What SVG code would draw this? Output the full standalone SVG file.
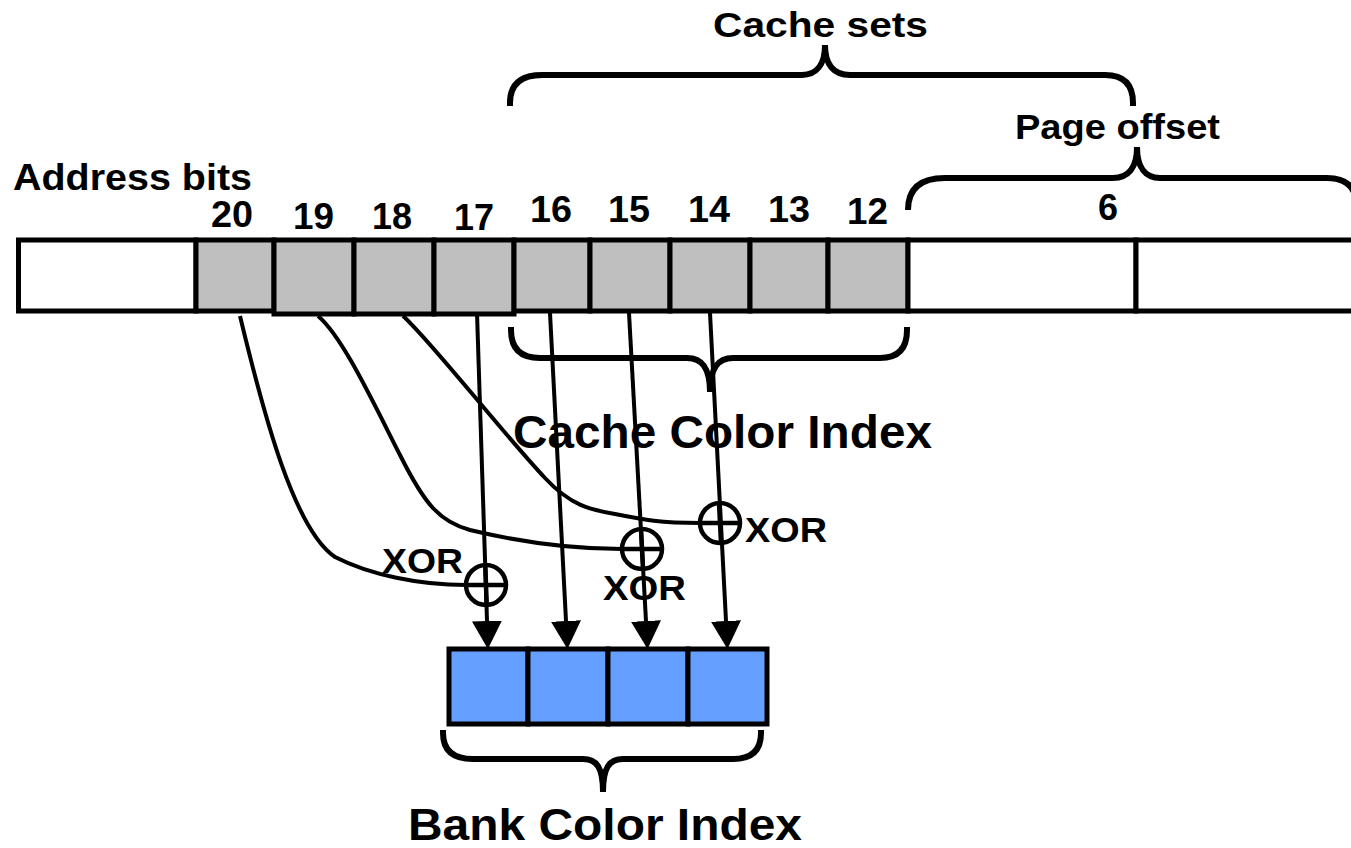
<svg xmlns="http://www.w3.org/2000/svg" width="1351" height="848" viewBox="0 0 1351 848">
  <style>
    .lbl { font-family: "Liberation Sans", Arial, sans-serif; font-weight: bold; fill: #000; }
    .cell { stroke: #000; stroke-width: 5; }
    .grey { fill: #BFBFBF; }
    .white { fill: #FFFFFF; }
    .blue { fill: #659FFF; stroke: #000; stroke-width: 5; }
    .brace { fill: none; stroke: #000; stroke-width: 6; }
    .wire { fill: none; stroke: #000; stroke-width: 4; }
    .xor { fill: none; stroke: #000; stroke-width: 4.5; }
  </style>
  <defs>
    <marker id="arrow" viewBox="0 0 28 30" refX="0" refY="15" markerWidth="28" markerHeight="30" orient="auto" markerUnits="userSpaceOnUse">
      <path d="M0,0 L28,15 L0,30 Z" fill="#000"/>
    </marker>
  </defs>
  <rect width="1351" height="848" fill="#FFFFFF"/>

  <!-- Labels -->
  <g id="label-cache-sets"><text class="lbl" x="713" y="37" font-size="35" textLength="215" lengthAdjust="spacingAndGlyphs">Cache sets</text></g>
  <g id="label-page-offset"><text class="lbl" x="1015" y="139" font-size="35" textLength="205" lengthAdjust="spacingAndGlyphs">Page offset</text></g>
  <g id="label-address-bits"><text class="lbl" x="13" y="190" font-size="36" textLength="239" lengthAdjust="spacingAndGlyphs">Address bits</text></g>

  <!-- Brackets -->
  <g id="brace-cache-sets"><path class="brace" d="M510,106 L510,103 Q510,75 542,75 L802,75 C816,75 825,65 825,45 C825,65 834,75 850,75 L1105,75 Q1133,75 1133,103 L1133,106"/></g>
  <g id="brace-page-offset"><path class="brace" d="M908,210 L908,210 Q908,178 945,178 L1113,178 C1128,178 1137,168 1137,147 C1137,168 1146,178 1160,178 L1327,178 Q1357,178 1357,208"/></g>
  <g id="brace-cache-color"><path class="brace" d="M511,327 L511,330 Q511,358 540,358 L687,358 C702,358 710,368 710,392 C710,368 718,358 733,358 L880,358 Q907,358 907,330 L907,327"/></g>
  <g id="brace-bank-color"><path class="brace" d="M443,730 L443,733 Q443,759 473,759 L583,759 C597,759 603,768 603,792 C603,768 609,759 623,759 L733,759 Q761,759 761,733 L761,730"/></g>

  <!-- Address bit row -->
  <g id="bit-high"><rect class="cell white" x="18.5" y="240" width="177.5" height="71"/></g>
  <g id="bit-20"><rect class="cell grey" x="196" y="240" width="78" height="71"/><text class="lbl" x="211" y="227" font-size="36" textLength="42" lengthAdjust="spacingAndGlyphs">20</text></g>
  <g id="bit-19"><rect class="cell grey" x="274" y="240" width="80" height="74"/><text class="lbl" x="293" y="229" font-size="36" textLength="41" lengthAdjust="spacingAndGlyphs">19</text></g>
  <g id="bit-18"><rect class="cell grey" x="354" y="240" width="80" height="74"/><text class="lbl" x="372" y="229" font-size="36" textLength="40" lengthAdjust="spacingAndGlyphs">18</text></g>
  <g id="bit-17"><rect class="cell grey" x="434" y="240" width="80" height="74"/><text class="lbl" x="454" y="230" font-size="36" textLength="40" lengthAdjust="spacingAndGlyphs">17</text></g>
  <g id="bit-16"><rect class="cell grey" x="514" y="240" width="76" height="71"/><text class="lbl" x="530" y="222" font-size="36" textLength="42" lengthAdjust="spacingAndGlyphs">16</text></g>
  <g id="bit-15"><rect class="cell grey" x="590" y="240" width="80" height="71"/><text class="lbl" x="608" y="222" font-size="36" textLength="42" lengthAdjust="spacingAndGlyphs">15</text></g>
  <g id="bit-14"><rect class="cell grey" x="670" y="240" width="80" height="71"/><text class="lbl" x="688" y="222" font-size="36" textLength="42" lengthAdjust="spacingAndGlyphs">14</text></g>
  <g id="bit-13"><rect class="cell grey" x="750" y="240" width="78" height="71"/><text class="lbl" x="768" y="222" font-size="36" textLength="42" lengthAdjust="spacingAndGlyphs">13</text></g>
  <g id="bit-12"><rect class="cell grey" x="828" y="240" width="80" height="71"/><text class="lbl" x="847" y="224" font-size="36" textLength="41" lengthAdjust="spacingAndGlyphs">12</text></g>
  <g id="page-offset-a"><rect class="cell white" x="908" y="240" width="228" height="71"/><text class="lbl" x="1098" y="220" font-size="36" textLength="20" lengthAdjust="spacingAndGlyphs">6</text></g>
  <g id="page-offset-b"><rect class="cell white" x="1136" y="240" width="230" height="71"/></g>

  <g id="label-cache-color-index"><text class="lbl" x="513" y="448" font-size="46" textLength="419" lengthAdjust="spacingAndGlyphs">Cache Color Index</text></g>

  <!-- Connectors -->
  <g id="connectors">
    <path class="wire" d="M240,316 C265,420 295,530 335,557 C370,575 420,585 466,585"/>
    <path class="wire" d="M318,316 C342,336 372,400 400,455 C425,505 440,522 470,530 C520,542 570,549 622,549"/>
    <path class="wire" d="M403,316 C430,340 500,430 545,478 C570,505 590,510 615,514 C645,520 660,523 700,523"/>
    <line class="wire" x1="477" y1="313" x2="487" y2="621" marker-end="url(#arrow)"/>
    <line class="wire" x1="550" y1="313" x2="566" y2="621" marker-end="url(#arrow)"/>
    <line class="wire" x1="629" y1="313" x2="646" y2="621" marker-end="url(#arrow)"/>
    <line class="wire" x1="710" y1="313" x2="726" y2="621" marker-end="url(#arrow)"/>
  </g>

  <!-- XOR nodes -->
  <g id="xor-1"><circle class="xor" cx="486" cy="585" r="20"/><line class="xor" x1="466" y1="585" x2="506" y2="585"/><line class="xor" x1="485.3" y1="565" x2="486.7" y2="605"/><text class="lbl" x="382" y="573" font-size="35" textLength="81" lengthAdjust="spacingAndGlyphs">XOR</text></g>
  <g id="xor-2"><circle class="xor" cx="642" cy="549" r="20"/><line class="xor" x1="622" y1="549" x2="662" y2="549"/><line class="xor" x1="641" y1="529" x2="643" y2="569"/><text class="lbl" x="603" y="600" font-size="35" textLength="83" lengthAdjust="spacingAndGlyphs">XOR</text></g>
  <g id="xor-3"><circle class="xor" cx="720" cy="523" r="20"/><line class="xor" x1="700" y1="523" x2="740" y2="523"/><line class="xor" x1="719" y1="503" x2="721" y2="543"/><text class="lbl" x="745" y="542" font-size="35" textLength="82" lengthAdjust="spacingAndGlyphs">XOR</text></g>

  <!-- Bank color index -->
  <g id="bank-0"><rect class="blue" x="449" y="649" width="79" height="75"/></g>
  <g id="bank-1"><rect class="blue" x="528" y="649" width="80" height="75"/></g>
  <g id="bank-2"><rect class="blue" x="608" y="649" width="80" height="75"/></g>
  <g id="bank-3"><rect class="blue" x="688" y="649" width="79" height="75"/></g>
  <g id="label-bank-color-index"><text class="lbl" x="408" y="840" font-size="45" textLength="394" lengthAdjust="spacingAndGlyphs">Bank Color Index</text></g>
</svg>
